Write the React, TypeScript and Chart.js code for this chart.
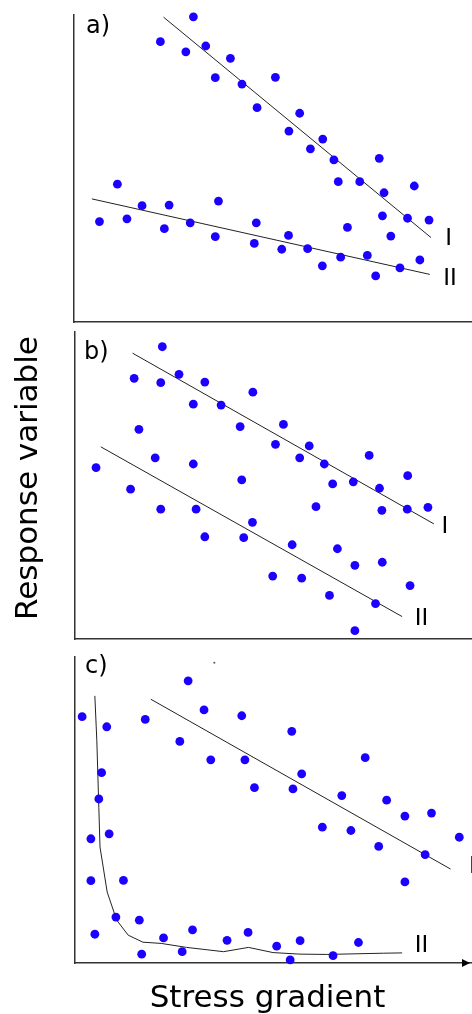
import { useEffect, useRef } from "react";
import { Chart, registerables } from "chart.js";

Chart.register(...registerables);

// ---------- data (x: stress gradient 0-10, y: response variable 0-10) ----------
const aGroupI = [
  [3.0, 9.94], [2.17, 9.13], [2.81, 8.8], [3.31, 8.99], [3.93, 8.59], [3.55, 7.96],
  [4.22, 7.75], [5.06, 7.97], [4.6, 6.98], [5.67, 6.8], [5.4, 6.22], [6.25, 5.96],
  [5.94, 5.64], [6.53, 5.28], [7.67, 5.33], [6.64, 4.57], [7.18, 4.57], [7.79, 4.21],
  [8.55, 4.43], [7.75, 3.46], [8.38, 3.38], [8.92, 3.32], [7.96, 2.8],
];
const aGroupII = [
  [0.64, 3.27], [1.09, 4.49], [1.33, 3.36], [1.71, 3.79], [2.39, 3.81], [2.27, 3.04],
  [2.92, 3.23], [3.63, 3.94], [3.55, 2.78], [4.58, 3.23], [4.53, 2.56], [5.39, 2.82],
  [5.22, 2.37], [5.87, 2.39], [6.24, 1.83], [6.7, 2.11], [6.87, 3.08], [7.37, 2.17],
  [7.58, 1.5], [8.19, 1.76], [8.69, 2.02],
];
const aFitI = [[2.25, 9.93], [8.97, 2.75]];
const aFitII = [[0.45, 4.01], [8.94, 1.55]];

const bGroupI = [
  [2.2, 9.52], [1.49, 8.49], [2.16, 8.35], [2.62, 8.62], [3.27, 8.37], [2.98, 7.65],
  [3.68, 7.62], [4.48, 8.04], [4.16, 6.92], [5.25, 6.99], [5.05, 6.34], [5.9, 6.29],
  [5.66, 5.9], [6.28, 5.7], [7.41, 5.98], [7.01, 5.12], [6.49, 5.05], [7.67, 4.91],
  [8.38, 5.32], [7.73, 4.19], [8.37, 4.23], [8.89, 4.29], [6.07, 4.31],
];
const bGroupII = [
  [1.61, 6.83], [0.53, 5.58], [2.02, 5.9], [2.98, 5.7], [1.4, 4.88], [4.2, 5.18],
  [2.16, 4.23], [3.05, 4.23], [4.47, 3.8], [3.27, 3.33], [4.25, 3.3], [5.47, 3.07],
  [6.61, 2.94], [7.05, 2.4], [7.74, 2.5], [4.98, 2.05], [5.71, 1.98], [6.41, 1.42],
  [8.44, 1.74], [7.57, 1.15], [7.05, 0.27],
];
const bFitI = [[1.45, 9.31], [9.04, 3.75]];
const bFitII = [[0.65, 6.26], [8.24, 0.73]];

const cGroupI = [
  [2.85, 9.22], [3.25, 8.27], [4.2, 8.08], [1.77, 7.96], [5.46, 7.57], [2.64, 7.24],
  [3.42, 6.64], [4.28, 6.64], [7.31, 6.71], [5.71, 6.18], [4.52, 5.73], [5.49, 5.69],
  [6.72, 5.47], [7.85, 5.32], [8.31, 4.8], [8.98, 4.9], [6.23, 4.44], [6.95, 4.33],
  [7.65, 3.81], [8.82, 3.54], [9.68, 4.11], [8.31, 2.65],
];
const cGroupII = [
  [0.18, 8.05], [0.8, 7.72], [0.67, 6.22], [0.6, 5.36], [0.4, 4.06], [0.86, 4.22],
  [0.4, 2.69], [1.22, 2.7], [1.03, 1.5], [0.5, 0.94], [1.62, 1.4], [1.68, 0.29],
  [2.23, 0.82], [2.7, 0.37], [2.96, 1.08], [3.83, 0.74], [4.36, 1.0], [5.08, 0.55],
  [5.42, 0.1], [5.67, 0.73], [6.5, 0.24], [7.14, 0.67],
];
const cFitI = [[1.91, 8.62], [9.46, 3.07]];
const cFitII = [
  [0.5, 8.73], [0.55, 7.26], [0.6, 5.09], [0.63, 3.79], [0.81, 2.32], [1.05, 1.4],
  [1.34, 0.91], [1.71, 0.68], [2.17, 0.64], [2.81, 0.51], [3.74, 0.37], [4.37, 0.51],
  [4.99, 0.34], [5.67, 0.29], [6.34, 0.28], [7.77, 0.32], [8.24, 0.33],
];
const cStray = [[3.51, 9.81]];

const aLineLabels = [{ text: "I", x: 9.41, y: 2.51 }, { text: "II", x: 9.45, y: 1.21 }];
const bLineLabels = [{ text: "I", x: 9.32, y: 3.44 }, { text: "II", x: 8.73, y: 0.46 }];
const cLineLabels = [{ text: "I", x: 10.01, y: 2.93 }, { text: "II", x: 8.73, y: 0.37 }];

const panelNames = ["a)", "b)", "c)"];
const xTitle = "Stress gradient";
const yTitle = "Response variable";

// ---------- styling ----------
const DOT = "#1c00ff";
const INK = "#222";
const FONT = '"DejaVu Sans", Verdana, sans-serif';

const toPts = (arr: number[][]) => arr.map(([x, y]) => ({ x, y }));

const dots = (arr: number[][]) => ({
  type: "scatter" as const,
  data: toPts(arr),
  backgroundColor: DOT,
  borderColor: DOT,
  borderWidth: 0,
  pointRadius: 4.4,
  pointStyle: "circle",
  showLine: false,
  clip: false as const,
  order: 1,
});

const fit = (arr: number[][]) => ({
  type: "line" as const,
  data: toPts(arr),
  borderColor: INK,
  borderWidth: 1,
  pointRadius: 0,
  tension: 0,
  fill: false,
  showLine: true,
  clip: false as const,
  order: 2,
});

type Panel = {
  top: number;
  height: number;
  padding: { left: number; top: number; right: number; bottom: number };
  name: string;
  nameDx: number;
  nameDy: number;
  datasets: any[];
  lineLabels: { text: string; x: number; y: number }[];
  arrow?: boolean;
  yTitleAt?: { x: number; y: number };
  xTitleAt?: { x: number; y: number };
};

const panels: Panel[] = [
  {
    top: 0,
    height: 325,
    padding: { left: 74, top: 15, right: 0, bottom: 3 },
    name: panelNames[0],
    nameDx: 12,
    nameDy: 18,
    datasets: [dots(aGroupI), dots(aGroupII), fit(aFitI), fit(aFitII)],
    lineLabels: aLineLabels,
  },
  {
    top: 325,
    height: 320,
    padding: { left: 75, top: 7, right: 0, bottom: 6 },
    name: panelNames[1],
    nameDx: 9,
    nameDy: 27,
    datasets: [dots(bGroupI), dots(bGroupII), fit(bFitI), fit(bFitII)],
    lineLabels: bLineLabels,
    yTitleAt: { x: 36.5, y: 153 },
  },
  {
    top: 645,
    height: 369,
    padding: { left: 75, top: 12, right: 0, bottom: 51 },
    name: panelNames[2],
    nameDx: 10,
    nameDy: 16,
    datasets: [
      dots(cGroupI),
      dots(cGroupII),
      { ...dots(cStray), pointRadius: 1, backgroundColor: "#555", borderColor: "#555" },
      fit(cFitI),
      fit(cFitII),
    ],
    lineLabels: cLineLabels,
    arrow: true,
    xTitleAt: { x: 267.5, y: 361.5 },
  },
];

function makeOverlay(p: Panel) {
  return {
    id: "overlay",
    afterDatasetsDraw(chart: any) {
      const { ctx, chartArea } = chart;
      const xs = chart.scales.x;
      const ys = chart.scales.y;
      ctx.save();
      ctx.fillStyle = "#000";
      ctx.textBaseline = "alphabetic";

      ctx.font = `24px ${FONT}`;
      ctx.textAlign = "left";
      ctx.fillText(p.name, chartArea.left + p.nameDx, chartArea.top + p.nameDy);

      ctx.font = `23px ${FONT}`;
      ctx.textAlign = "center";
      for (const t of p.lineLabels) {
        ctx.fillText(t.text, xs.getPixelForValue(t.x), ys.getPixelForValue(t.y));
      }

      if (p.arrow) {
        const r = chartArea.right;
        const b = chartArea.bottom;
        ctx.beginPath();
        ctx.moveTo(r - 10, b - 4);
        ctx.lineTo(r - 2, b);
        ctx.lineTo(r - 10, b + 4);
        ctx.closePath();
        ctx.fill();
      }

      ctx.font = `31px ${FONT}`;
      if (p.xTitleAt) {
        ctx.textAlign = "center";
        ctx.fillText(xTitle, p.xTitleAt.x, p.xTitleAt.y);
      }
      if (p.yTitleAt) {
        ctx.translate(p.yTitleAt.x, p.yTitleAt.y);
        ctx.rotate(-Math.PI / 2);
        ctx.textAlign = "center";
        ctx.fillText(yTitle, 0, 0);
      }
      ctx.restore();
    },
  };
}

const axis = {
  type: "linear" as const,
  min: 0,
  max: 10,
  display: true,
  grid: { display: false, drawTicks: false },
  ticks: { display: false },
  border: { display: true, color: "#333", width: 1.5 },
  title: { display: false },
};

function PanelChart({ p }: { p: Panel }) {
  const ref = useRef<HTMLCanvasElement | null>(null);
  useEffect(() => {
    if (!ref.current) return;
    const chart = new Chart(ref.current, {
      type: "scatter",
      data: { datasets: p.datasets },
      options: {
        responsive: false,
        animation: false,
        devicePixelRatio: 1,
        events: [],
        layout: { padding: p.padding, autoPadding: false },
        plugins: { legend: { display: false }, tooltip: { enabled: false }, title: { display: false } },
        scales: { x: { ...axis }, y: { ...axis } },
      },
      plugins: [makeOverlay(p)],
    } as any);
    return () => chart.destroy();
  }, [p]);
  return (
    <canvas
      ref={ref}
      width={472}
      height={p.height}
      style={{ position: "absolute", left: 0, top: p.top, width: 472, height: p.height, display: "block" }}
    />
  );
}

export default function App() {
  useEffect(() => {
    document.body.style.margin = "0";
    document.body.style.background = "#fff";
  }, []);
  return (
    <div style={{ position: "absolute", left: 0, top: 0, width: 472, height: 1014, overflow: "hidden", background: "#fff" }}>
      {panels.map((p, i) => (
        <PanelChart key={i} p={p} />
      ))}
    </div>
  );
}
